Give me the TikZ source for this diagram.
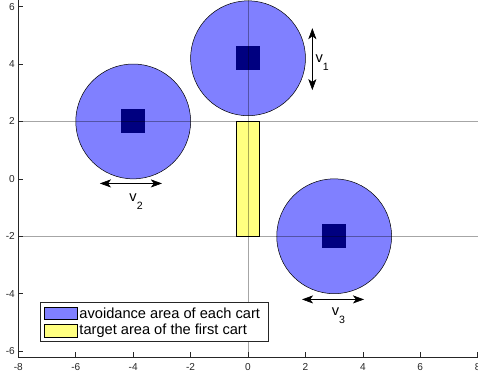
\documentclass[tikz,border=0pt]{standalone}
\usepackage{fontspec}
\setmainfont{Liberation Sans}
\usetikzlibrary{arrows.meta}
\definecolor{zonefill}{RGB}{128,128,255}
\definecolor{cartnavy}{RGB}{0,0,128}
\definecolor{goalfill}{RGB}{255,255,128}
\definecolor{axisgray}{RGB}{38,38,38}

\begin{document}
\begin{tikzpicture}[
    x=1cm, y=1cm,
    ticklbl/.style={font=\fontsize{10}{12}\selectfont, text=axisgray, inner sep=0pt},
    axisline/.style={draw=axisgray, line width=0.6pt},
    zone/.style={circle, draw=black, line width=0.5pt, fill=zonefill,
                 minimum size=4cm, inner sep=0pt},
    cartbox/.style={rectangle, fill=cartnavy, minimum size=0.84cm, inner sep=0pt},
    goalbox/.style={rectangle, draw=black, line width=0.5pt, fill=goalfill,
                    minimum width=0.8cm, minimum height=4cm, inner sep=0pt},
    track/.style={draw=black, opacity=0.35, line width=0.9pt},
    varrow/.style={{Stealth[length=11pt, width=8pt, inset=3pt]}-{Stealth[length=11pt, width=8pt, inset=3pt]},
                   line width=0.6pt},
    vlbl/.style={font=\fontsize{14.5}{16}\selectfont, inner sep=0pt},
    swatch/.style={rectangle, draw=black, line width=0.5pt,
                   minimum width=1.15cm, minimum height=0.43cm, inner sep=0pt},
    legtext/.style={font=\fontsize{14.5}{16}\selectfont, anchor=west, inner sep=0pt}
  ]
    \useasboundingbox (-8.64,-6.91) rectangle (8.01,6.23);

    % Avoidance areas and carts
    \node[zone] (zone1) at (0,4.2) {};
    \node[zone] (zone2) at (-4,2) {};
    \node[zone] (zone3) at (3,-2) {};
    \node[cartbox] (cart1) at (zone1.center) {};
    \node[cartbox] (cart2) at (zone2.center) {};
    \node[cartbox] (cart3) at (zone3.center) {};

    % Target area
    \node[goalbox] (goal) at (0,0) {};

    % Cart paths
    \draw[track] (-8,2) -- (8.01,2);
    \draw[track] (-8,-2) -- (8.01,-2);
    \draw[track] (0,-6.2) -- (0,6.23);

    % Velocities
    \coordinate (v1top) at (2.24,5.25);
    \coordinate (v1bot) at (2.24,3.09);
    \draw[varrow] (v1top) -- (v1bot);
    \node[vlbl] (v1lbl) at (2.58,4.05) {v\raisebox{-8pt}{\fontsize{10.5}{12}\selectfont 1}};

    \coordinate (v2left) at (-5.16,-0.16);
    \coordinate (v2right) at (-3.0,-0.16);
    \draw[varrow] (v2left) -- (v2right);
    \node[vlbl] (v2lbl) at (-3.9,-0.78) {v\raisebox{-8pt}{\fontsize{10.5}{12}\selectfont 2}};

    \coordinate (v3left) at (1.88,-4.2);
    \coordinate (v3right) at (4.04,-4.2);
    \draw[varrow] (v3left) -- (v3right);
    \node[vlbl] (v3lbl) at (3.15,-4.77) {v\raisebox{-8pt}{\fontsize{10.5}{12}\selectfont 3}};

    % Axes
    \draw[axisline] (-8,6.23) -- (-8,-6.2) -- (8.01,-6.2);
    \foreach \x in {-8,-6,...,8} {
      \draw[axisline] (\x,-6.2) -- ++(0,0.17);
      \node[ticklbl] at (\x,-6.56) {\x};
    }
    \foreach \y in {-6,-4,...,6} {
      \draw[axisline] (-8,\y) -- ++(0.17,0);
      \node[ticklbl, anchor=east] at (-8.12,\y) {\y};
    }

    % Legend
    \node[draw=axisgray, line width=0.6pt, fill=white, minimum width=7.95cm,
          minimum height=1.37cm, inner sep=0pt] (legend) at (-3.275,-4.975) {};
    \node[swatch, fill=zonefill] (sw1) at (-6.535,-4.675) {};
    \node[swatch, fill=goalfill] (sw2) at (-6.535,-5.29) {};
    \node[legtext] (lg1) at (-5.88,-4.68) {avoidance area of each cart};
    \node[legtext] (lg2) at (-5.88,-5.29) {target area of the first cart};
  \end{tikzpicture}
\end{document}
